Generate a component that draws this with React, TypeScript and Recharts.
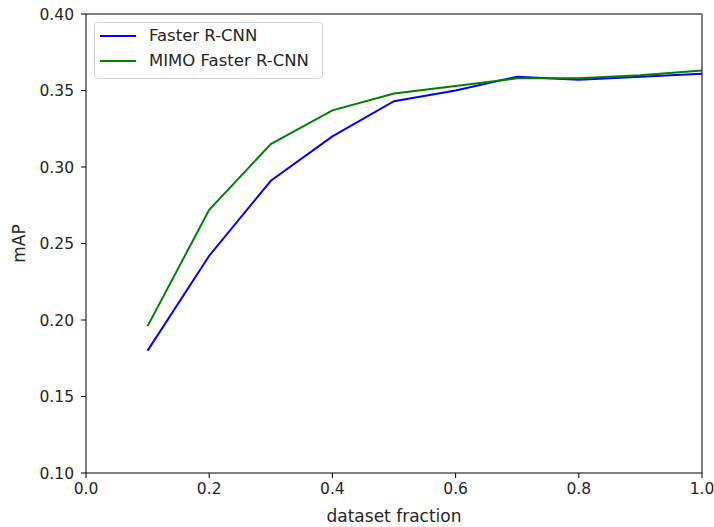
import React from "react";
import { LineChart, Line, XAxis, YAxis, Legend, ReferenceLine } from "recharts";

const fractions = [0.1, 0.2, 0.3, 0.4, 0.5, 0.6, 0.7, 0.8, 0.9, 1.0];
const fasterRCNN = [0.180, 0.242, 0.291, 0.320, 0.343, 0.350, 0.359, 0.357, 0.359, 0.361];
const mimoFasterRCNN = [0.196, 0.272, 0.315, 0.337, 0.348, 0.353, 0.358, 0.358, 0.360, 0.363];
const xTicks = [0, 0.2, 0.4, 0.6, 0.8, 1.0];
const yTicks = [0.1, 0.15, 0.2, 0.25, 0.3, 0.35, 0.4];

const data = fractions.map((f, i) => ({ f, a: fasterRCNN[i], b: mimoFasterRCNN[i] }));

const FONT = "'DejaVu Sans', sans-serif";
const tickStyle = { fontSize: 15.5, fill: "#262626", fontFamily: FONT };
const labelStyle = { fontSize: 17, fill: "#262626", fontFamily: FONT, textAnchor: "middle" as const };

const renderLegend = (props: any) => {
  const { payload } = props;
  return (
    <div
      style={{
        border: "1px solid #d6d6d6",
        borderRadius: 4,
        background: "rgba(255,255,255,0.8)",
        padding: "0px 8px 5px 5px",
        fontFamily: FONT,
        fontSize: 16.5,
        color: "#262626",
        boxSizing: "border-box",
        width: 229,
      }}
    >
      {payload.map((p: any) => (
        <div key={p.value} style={{ display: "flex", alignItems: "center", height: 25, whiteSpace: "nowrap" }}>
          <div style={{ width: 36, height: 2, background: p.color, marginRight: 13, flexShrink: 0 }} />
          <span>{p.value}</span>
        </div>
      ))}
    </div>
  );
};

export default function App() {
  return (
    <div style={{ position: "absolute", left: 0, top: 0 }}>
      <LineChart
        width={714}
        height={527}
        data={data}
        margin={{ top: 14, right: 12, bottom: 0, left: 0 }}
      >
        <XAxis
          dataKey="f"
          type="number"
          domain={[0, 1]}
          ticks={xTicks}
          tickFormatter={(v: number) => v.toFixed(1)}
          tick={tickStyle}
          tickSize={5}
          tickMargin={5}
          stroke="#000"
          height={54}
          label={{ value: "dataset fraction", position: "insideBottom", offset: 5, style: labelStyle }}
        />
        <YAxis
          type="number"
          domain={[0.1, 0.4]}
          ticks={yTicks}
          tickFormatter={(v: number) => v.toFixed(2)}
          tick={tickStyle}
          tickSize={5}
          tickMargin={7}
          stroke="#000"
          width={86}
          label={{ value: "mAP", angle: -90, position: "insideLeft", offset: 19, style: labelStyle }}
        />
        <ReferenceLine y={0.4} stroke="#000" strokeWidth={1} />
        <ReferenceLine x={1} stroke="#000" strokeWidth={1} />
        <Legend
          content={renderLegend}
          layout="vertical"
          verticalAlign="middle"
          align="center"
          wrapperStyle={{ left: 94, top: 22, width: 229 }}
        />
        <Line type="linear" dataKey="a" name="Faster R-CNN" stroke="#0000ff" strokeWidth={2} dot={false} isAnimationActive={false} />
        <Line type="linear" dataKey="b" name="MIMO Faster R-CNN" stroke="#008000" strokeWidth={2} dot={false} isAnimationActive={false} />
      </LineChart>
    </div>
  );
}
